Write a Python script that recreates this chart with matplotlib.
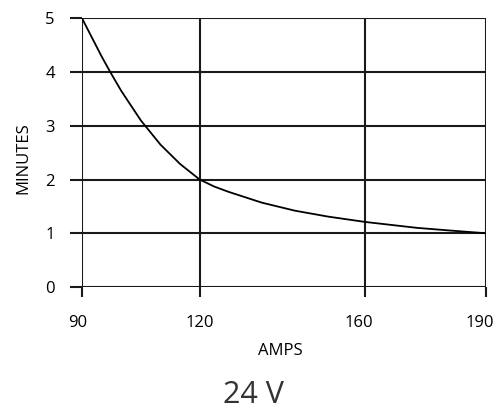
import matplotlib
matplotlib.use("Agg")
import matplotlib.pyplot as plt
import matplotlib.transforms as mtransforms
import numpy as np

plt.rcParams['font.family'] = ['Open Sans', 'DejaVu Sans']

amps = [90, 95, 97.2, 100, 105, 110, 115, 120, 123.5, 127, 135, 143,
        151, 160, 172.9, 181.2, 190]
minutes = [5.0, 4.29, 4.0, 3.65, 3.10, 2.65, 2.29, 2.0, 1.87, 1.77, 1.57, 1.42,
           1.31, 1.21, 1.10, 1.05, 1.0]
x_ticks = [90, 120, 160, 190]
y_ticks = [0, 1, 2, 3, 4, 5]
x_label = "AMPS"
y_label = "MINUTES"
title = "24 V"

# the printed chart spaces its amp ticks slightly unevenly
tick_pos = [0.0, 117.6, 283.3, 404.0]

def fwd(v):
    return np.interp(v, x_ticks, tick_pos, left=-1e9, right=1e9)

def inv(v):
    return np.interp(v, tick_pos, x_ticks)

fig = plt.figure(figsize=(4.98, 4.11), dpi=100)
ax = fig.add_axes([0.1647, 0.3017, 0.976 - 0.1647, 0.9555 - 0.3017])
ax.set_xscale('function', functions=(fwd, inv))

ax.plot(amps, minutes, color='black', lw=1.3, zorder=3, solid_joinstyle='round')
ax.set_xlim(90, 190)
ax.set_ylim(0, 5)
ax.set_xticks(x_ticks)
ax.set_xticklabels([str(t) for t in x_ticks])
ax.set_xticks([], minor=True)
ax.set_yticks(y_ticks)
ax.grid(True, color='#1a1a1a', lw=1.5)
for s in ax.spines.values():
    s.set_visible(False)
ax.tick_params(axis='both', width=1.5, color='#1a1a1a', labelsize=12)
ax.tick_params(axis='x', length=7.5, pad=12.8)
ax.tick_params(axis='y', length=8.6, pad=11)

# label nudges as printed
shifts = [-4, 0, -6, -6]
for lab, dx in zip(ax.get_xticklabels(), shifts):
    lab.set_transform(lab.get_transform() +
                      mtransforms.ScaledTranslation(dx / 100, 0, fig.dpi_scale_trans))

ax.set_xlabel(x_label, fontsize=12)
ax.xaxis.label.set_va('baseline')
ax.xaxis.set_label_coords((280 - 82) / 404, -(355 - 287) / 269)
ax.set_ylabel(y_label, fontsize=12)
ax.yaxis.label.set_va('baseline')
ax.yaxis.set_label_coords((27 - 82) / 404, (287 - 157.5) / 269)
fig.text(253.5 / 498, 1 - 403 / 411, title, fontsize=22, color='#333333',
         ha='center', va='baseline')

fig.savefig("out.png", dpi=100)
